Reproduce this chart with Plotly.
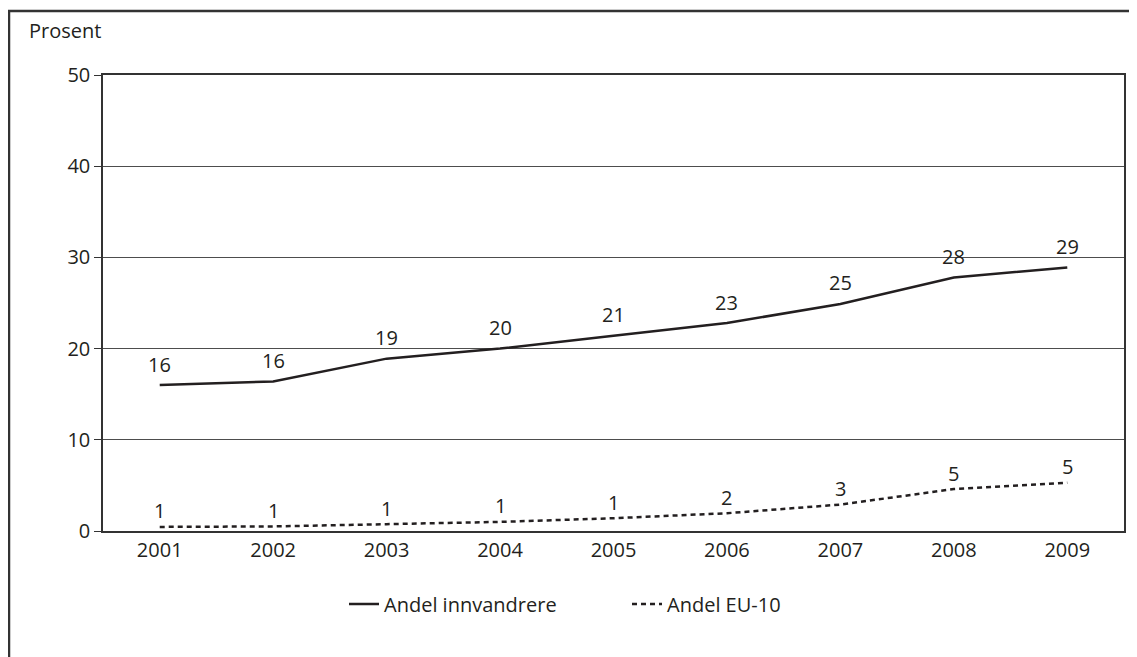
import plotly.graph_objects as go

years = ["2001", "2002", "2003", "2004", "2005", "2006", "2007", "2008", "2009"]
andel_innvandrere = [16.0, 16.4, 18.9, 20.0, 21.4, 22.8, 24.9, 27.8, 28.9]
andel_eu10 = [0.45, 0.5, 0.75, 1.0, 1.4, 1.95, 2.9, 4.6, 5.3]
label_innvandrere = ["16", "16", "19", "20", "21", "23", "25", "28", "29"]
label_eu10 = ["1", "1", "1", "1", "1", "2", "3", "5", "5"]
y_ticks = [0, 10, 20, 30, 40, 50]

OFF = 8  # default body margin of the html page
W, H = 1137 - OFF, 657 - OFF
L, R, T, B = 103 - OFF, 13, 75 - OFF, 126
pw, ph = W - L - R, H - T - B

FONT = "Open Sans"
FS = 20
INK = "#231f20"

fig = go.Figure()
fig.add_trace(go.Scatter(
    x=years, y=andel_innvandrere, mode="lines", name="Andel innvandrere",
    line=dict(color=INK, width=2.5), cliponaxis=False,
))
fig.add_trace(go.Scatter(
    x=years, y=andel_eu10, mode="lines", name="Andel EU-10",
    line=dict(color=INK, width=2.5, dash="5px,4px"), cliponaxis=False,
))

# data labels (category index on x)
for i, (v, lab) in enumerate(zip(andel_innvandrere, label_innvandrere)):
    fig.add_annotation(x=i, y=v, xref="x", yref="y", text=lab, showarrow=False,
                       yanchor="middle", yshift=21,
                       font=dict(family=FONT, size=FS, color=INK))
for i, (v, lab) in enumerate(zip(andel_eu10, label_eu10)):
    fig.add_annotation(x=i, y=v, xref="x", yref="y", text=lab, showarrow=False,
                       yanchor="middle", yshift=16,
                       font=dict(family=FONT, size=FS, color=INK))


def px_x(px):
    return (px - OFF - L) / pw


def px_y(py):
    return (H - B - (py - OFF)) / ph


# outer frame (left and top)
fig.add_shape(type="line", xref="paper", yref="paper",
              x0=px_x(9), x1=px_x(9), y0=px_y(11), y1=px_y(670),
              line=dict(color="#333333", width=2.5))
fig.add_shape(type="line", xref="paper", yref="paper",
              x0=px_x(8), x1=px_x(1150), y0=px_y(11), y1=px_y(11),
              line=dict(color="#333333", width=2.5))

fig.add_annotation(text="Prosent", xref="paper", yref="paper",
                   x=px_x(27), y=px_y(31), xanchor="left", yanchor="middle",
                   showarrow=False, font=dict(family=FONT, size=FS, color=INK))

fig.update_layout(
    width=W, height=H,
    margin=dict(l=L, r=R, t=T, b=B, autoexpand=False),
    paper_bgcolor="white", plot_bgcolor="white",
    font=dict(family=FONT, size=FS, color=INK),
    showlegend=True,
    legend=dict(orientation="h", x=px_x(344), y=px_y(604),
                xanchor="left", yanchor="middle",
                font=dict(family=FONT, size=FS, color=INK),
                entrywidth=238, entrywidthmode="pixels",
                bgcolor="rgba(0,0,0,0)"),
    xaxis=dict(type="category", range=[-0.5, 8.5], showgrid=False,
               showline=True, linecolor="#333333", linewidth=1.5, mirror=True,
               ticks="", tickfont=dict(family=FONT, size=FS, color=INK),
               zeroline=False, fixedrange=True),
    yaxis=dict(range=[0, 50], tickvals=y_ticks, showgrid=True,
               gridcolor="#4d4d4d", gridwidth=1,
               showline=True, linecolor="#333333", linewidth=1.5, mirror=True,
               ticks="outside", ticklen=7, tickcolor="#333333", tickwidth=1,
               tickfont=dict(family=FONT, size=FS, color=INK),
               zeroline=False, fixedrange=True),
)

fig.write_html("out.html")
